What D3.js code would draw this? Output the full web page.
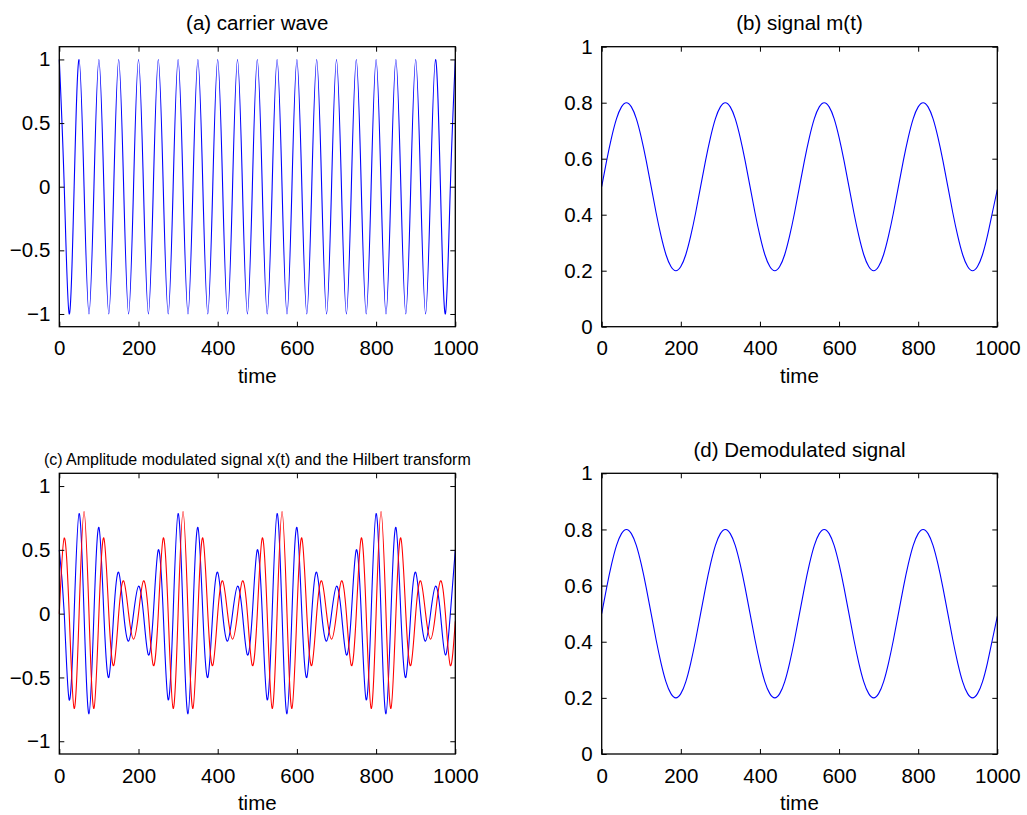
<!DOCTYPE html>
<html>
<head>
<meta charset="utf-8">
<script src="https://cdn.jsdelivr.net/npm/d3@7"></script>
<style>
  html, body { margin: 0; padding: 0; background: #ffffff; }
  svg { display: block; }
  text { font-family: "Liberation Sans", Arial, Helvetica, sans-serif; fill: #000; }
</style>
</head>
<body>
<svg id="fig" width="1027" height="815"></svg>
<script>
// ---- Data (samples every quarter carrier period) ----
const time = [0,12.5,25,37.5,50,62.5,75,87.5,100,112.5,125,137.5,150,162.5,175,187.5,200,212.5,225,237.5,
  250,262.5,275,287.5,300,312.5,325,337.5,350,362.5,375,387.5,400,412.5,425,437.5,450,462.5,475,487.5,
  500,512.5,525,537.5,550,562.5,575,587.5,600,612.5,625,637.5,650,662.5,675,687.5,700,712.5,725,737.5,
  750,762.5,775,787.5,800,812.5,825,837.5,850,862.5,875,887.5,900,912.5,925,937.5,950,962.5,975,987.5,1000];

const carrier = [1,0,-1,0,1,0,-1,0,1,0,-1,0,1,0,-1,0,1,0,-1,0,
  1,0,-1,0,1,0,-1,0,1,0,-1,0,1,0,-1,0,1,0,-1,0,
  1,0,-1,0,1,0,-1,0,1,0,-1,0,1,0,-1,0,1,0,-1,0,
  1,0,-1,0,1,0,-1,0,1,0,-1,0,1,0,-1,0,1,0,-1,0,1];

const signalM = [0.5,0.593,0.676,0.743,0.785,0.8,0.785,0.743,0.676,0.593,0.5,0.407,0.324,0.257,0.215,0.2,0.215,0.257,0.324,0.407,
  0.5,0.593,0.676,0.743,0.785,0.8,0.785,0.743,0.676,0.593,0.5,0.407,0.324,0.257,0.215,0.2,0.215,0.257,0.324,0.407,
  0.5,0.593,0.676,0.743,0.785,0.8,0.785,0.743,0.676,0.593,0.5,0.407,0.324,0.257,0.215,0.2,0.215,0.257,0.324,0.407,
  0.5,0.593,0.676,0.743,0.785,0.8,0.785,0.743,0.676,0.593,0.5,0.407,0.324,0.257,0.215,0.2,0.215,0.257,0.324,0.407,0.49];

const amSignal = [0.5,0,-0.676,0,0.785,0,-0.785,0,0.676,0,-0.5,0,0.324,0,-0.215,0,0.215,0,-0.324,0,
  0.5,0,-0.676,0,0.785,0,-0.785,0,0.676,0,-0.5,0,0.324,0,-0.215,0,0.215,0,-0.324,0,
  0.5,0,-0.676,0,0.785,0,-0.785,0,0.676,0,-0.5,0,0.324,0,-0.215,0,0.215,0,-0.324,0,
  0.5,0,-0.676,0,0.785,0,-0.785,0,0.676,0,-0.5,0,0.324,0,-0.215,0,0.215,0,-0.324,0,0.5];

const hilbertSignal = [0,0.593,0,-0.743,0,0.8,0,-0.743,0,0.593,0,-0.407,0,0.257,0,-0.2,0,0.257,0,-0.407,
  0,0.593,0,-0.743,0,0.8,0,-0.743,0,0.593,0,-0.407,0,0.257,0,-0.2,0,0.257,0,-0.407,
  0,0.593,0,-0.743,0,0.8,0,-0.743,0,0.593,0,-0.407,0,0.257,0,-0.2,0,0.257,0,-0.407,
  0,0.593,0,-0.743,0,0.8,0,-0.743,0,0.593,0,-0.407,0,0.257,0,-0.2,0,0.257,0,-0.407,-0.06];

const demodulated = [0.5,0.593,0.676,0.743,0.785,0.8,0.785,0.743,0.676,0.593,0.5,0.407,0.324,0.257,0.215,0.2,0.215,0.257,0.324,0.407,
  0.5,0.593,0.676,0.743,0.785,0.8,0.785,0.743,0.676,0.593,0.5,0.407,0.324,0.257,0.215,0.2,0.215,0.257,0.324,0.407,
  0.5,0.593,0.676,0.743,0.785,0.8,0.785,0.743,0.676,0.593,0.5,0.407,0.324,0.257,0.215,0.2,0.215,0.257,0.324,0.407,
  0.5,0.593,0.676,0.743,0.785,0.8,0.785,0.743,0.676,0.593,0.5,0.407,0.324,0.257,0.215,0.2,0.215,0.257,0.324,0.407,0.49];

const xTicks = [0, 200, 400, 600, 800, 1000];
const yTicksSym = [-1, -0.5, 0, 0.5, 1];
const yTickLabelsSym = ["\u22121", "\u22120.5", "0", "0.5", "1"];
const yTicksUnit = [0, 0.2, 0.4, 0.6, 0.8, 1];
const yTickLabelsUnit = ["0", "0.2", "0.4", "0.6", "0.8", "1"];

const titles = ["(a) carrier wave", "(b) signal m(t)",
  "(c) Amplitude modulated signal x(t) and the Hilbert transform", "(d) Demodulated signal"];
const xLabel = "time";

// ---- Layout ----
const svg = d3.select("#fig");
const panels = [
  { left: 59.3, top: 46.7, w: 396, h: 280, ydom: [-1.1, 1.1], yt: yTicksSym, yl: yTickLabelsSym,
    series: [{ v: carrier, c: "#0000ff" }], title: titles[0], tfs: 20.5, tby: -16.7 },
  { left: 601.7, top: 46.7, w: 395.6, h: 280, ydom: [0, 1], yt: yTicksUnit, yl: yTickLabelsUnit,
    series: [{ v: signalM, c: "#0000ff" }], title: titles[1], tfs: 20.5, tby: -16.7 },
  { left: 59.3, top: 473.3, w: 396, h: 280.7, ydom: [-1.1, 1.1], yt: yTicksSym, yl: yTickLabelsSym,
    series: [{ v: amSignal, c: "#0000ff" }, { v: hilbertSignal, c: "#ff0000" }], title: titles[2], tfs: 16, tby: -8 },
  { left: 601.7, top: 473.3, w: 395.6, h: 280.7, ydom: [0, 1], yt: yTicksUnit, yl: yTickLabelsUnit,
    series: [{ v: demodulated, c: "#0000ff" }], title: titles[3], tfs: 20.5, tby: -16.7 }
];

const FS = 20.5;

panels.forEach(p => {
  const g = svg.append("g").attr("transform", `translate(${p.left},${p.top})`);
  const x = d3.scaleLinear().domain([0, 1000]).range([0, p.w]);
  const y = d3.scaleLinear().domain(p.ydom).range([p.h, 0]);

  // lines
  const line = d3.line().x((d, i) => x(time[i])).y(d => y(d)).curve(d3.curveNatural);
  p.series.forEach(s => {
    g.append("path").datum(s.v)
      .attr("fill", "none").attr("stroke", s.c).attr("stroke-width", 1.1)
      .attr("d", line);
  });

  // axes
  const bottom = g.append("g").attr("transform", `translate(0,${p.h})`)
    .call(d3.axisBottom(x).tickValues(xTicks).tickSize(-5).tickPadding(14).tickFormat(d3.format("d")));
  const top = g.append("g")
    .call(d3.axisTop(x).tickValues(xTicks).tickSize(-5).tickFormat(""));
  const left = g.append("g")
    .call(d3.axisLeft(y).tickValues(p.yt).tickSize(-5).tickPadding(9).tickFormat((d, i) => p.yl[i]));
  const right = g.append("g").attr("transform", `translate(${p.w},0)`)
    .call(d3.axisRight(y).tickValues(p.yt).tickSize(-5).tickFormat(""));
  [bottom, top, left, right].forEach(a => {
    a.select(".domain").remove();
    a.selectAll("line").attr("stroke", "#000").attr("stroke-width", 1);
    a.selectAll("text").attr("font-size", FS).style("font-family", '"Liberation Sans", Arial, sans-serif').attr("fill", "#000");
  });

  // box
  g.append("rect").attr("x", 0).attr("y", 0).attr("width", p.w).attr("height", p.h)
    .attr("fill", "none").attr("stroke", "#000").attr("stroke-width", 1.3);

  // title
  g.append("text").attr("x", p.w / 2).attr("y", p.tby).attr("text-anchor", "middle")
    .attr("font-size", p.tfs).text(p.title);

  // x label
  g.append("text").attr("x", p.w / 2).attr("y", p.h + 56).attr("text-anchor", "middle")
    .attr("font-size", FS).text(xLabel);
});
</script>
</body>
</html>
